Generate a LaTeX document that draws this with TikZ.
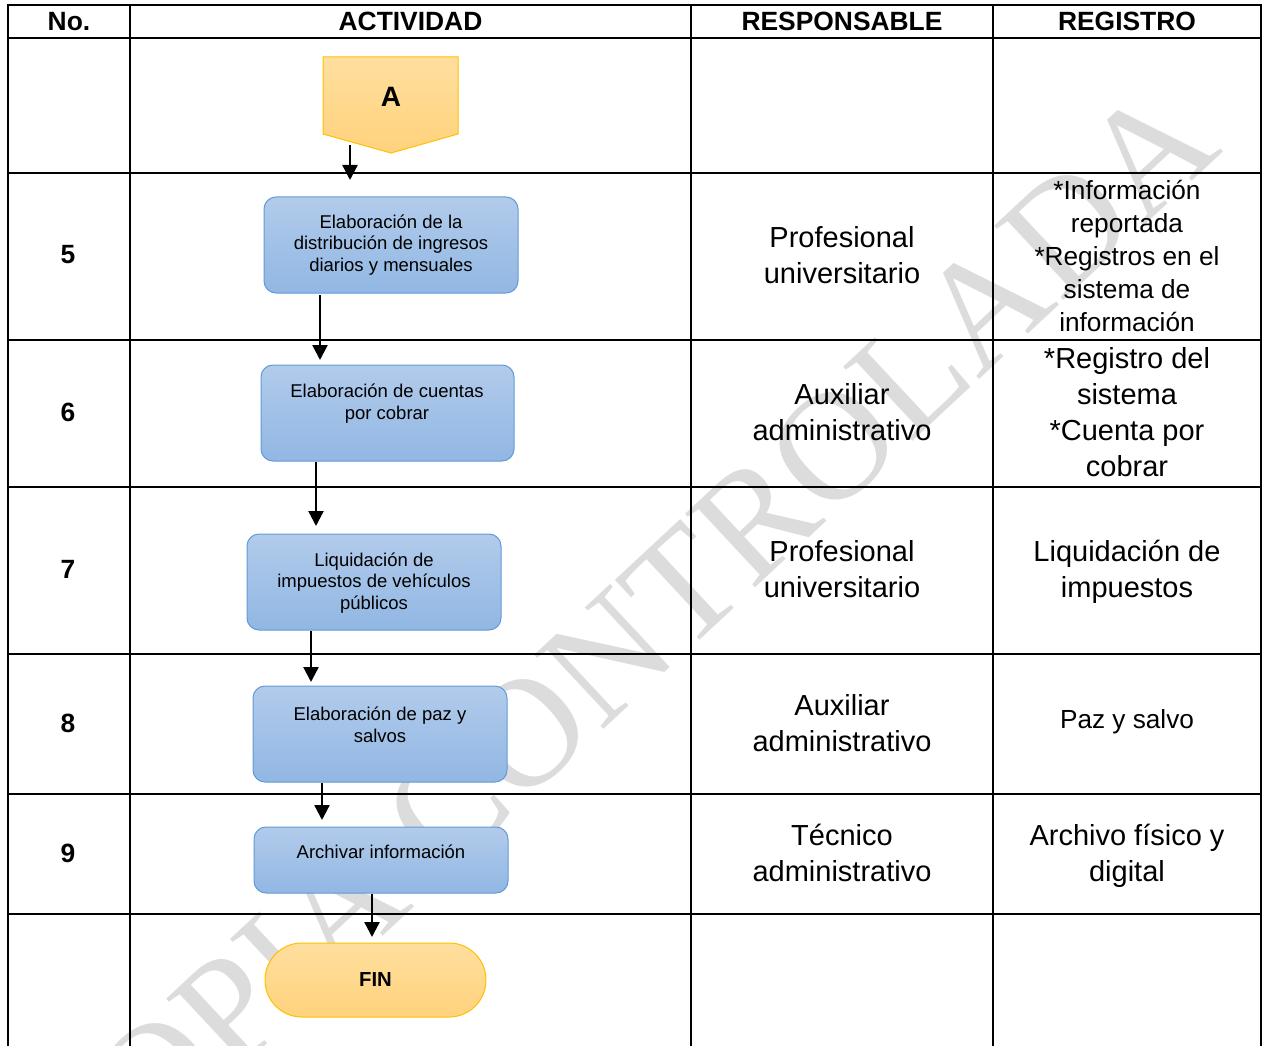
\documentclass[tikz,border=0pt]{standalone}
\usepackage{fontspec}
\setmainfont{Liberation Sans}
\newfontfamily\wmfont{Liberation Serif}
\usetikzlibrary{arrows.meta}
\definecolor{boxtop}{RGB}{178,203,235}
\definecolor{boxbot}{RGB}{145,183,227}
\definecolor{boxline}{RGB}{98,155,215}
\definecolor{orgtop}{RGB}{255,223,158}
\definecolor{orgbot}{RGB}{255,210,125}
\definecolor{orgline}{RGB}{255,192,0}
\definecolor{wmgray}{RGB}{220,220,220}
\begin{document}
\begin{tikzpicture}[x=1pt,y=-1pt,
  gridline/.style={line width=2.6pt, line cap=rect},
  proc/.style={draw=boxline, line width=1pt, rounded corners=12pt, top color=boxtop, bottom color=boxbot, minimum width=254pt, inner sep=0pt},
  proctext/.style={font=\fontsize{18.5}{21.5}\selectfont, align=center, inner sep=0pt},
  term/.style={draw=orgline, line width=1pt, top color=orgtop, bottom color=orgbot},
  head/.style={font=\bfseries\fontsize{26.4}{30}\selectfont, inner sep=0pt},
  num/.style={font=\bfseries\fontsize{26.4}{30}\selectfont, inner sep=0pt},
  cell/.style={font=\fontsize{29}{36}\selectfont, align=center, inner sep=0pt},
  cellsmall/.style={font=\fontsize{26.2}{33}\selectfont, align=center, inner sep=0pt},
  arr/.style={line width=2.4pt, -{Triangle[width=15pt,length=15pt]}},
  wm/.style={font=\wmfont\fontsize{155}{155}\selectfont, text=wmgray, inner sep=0pt}
]
\useasboundingbox (0,0) rectangle (1262,1046);
% watermark
\begin{scope}
  \clip (0,0) rectangle (1262,1046);
  \node[wm, rotate=43] (wmark) at (615,650) {COPIA CONTROLADA};
\end{scope}
% table grid
\foreach \yy in {5,38,173,340,487,654,794,914}
  \draw[gridline] (8,\yy) -- (1261,\yy);
\foreach \xx in {8,130,691,993,1261}
  \draw[gridline] (\xx,5) -- (\xx,1046);
% header
\node[head] (h1) at (69,21.5) {No.};
\node[head] (h2) at (410.5,21.5) {ACTIVIDAD};
\node[head] (h3) at (842,21.5) {RESPONSABLE};
\node[head] (h4) at (1127,21.5) {REGISTRO};
% numbers
\node[num] (n5) at (68,255) {5};
\node[num] (n6) at (68,412) {6};
\node[num] (n7) at (68,569) {7};
\node[num] (n8) at (68,723) {8};
\node[num] (n9) at (68,853) {9};
% connector A
\path[term] (323,57) -- (458,57) -- (458,134) -- (391,153) -- (323,134) -- cycle;
\node[font=\bfseries\fontsize{28}{30}\selectfont, inner sep=0pt] (A) at (391,97) {A};
% process boxes
\node[proc, minimum height=96pt] (b1) at (391,245) {};
\node[proctext] (t1) at (391,245) {Elaboración de la\\distribución de ingresos\\diarios y mensuales};
\node[proc, minimum height=96pt, minimum width=253pt] (b2) at (387.5,413) {};
\node[proctext] (t2) at (387,403.5) {Elaboración de cuentas\\por cobrar};
\node[proc, minimum height=96pt] (b3) at (374,582) {};
\node[proctext] (t3) at (374,583) {Liquidación de\\impuestos de vehículos\\públicos};
\node[proc, minimum height=96pt] (b4) at (380,734) {};
\node[proctext] (t4) at (380,725) {Elaboración de paz y\\salvos};
\node[proc, minimum height=66pt] (b5) at (381,860) {};
\node[proctext] (t5) at (381,852) {Archivar información};
% end terminal
\node[term, rounded corners=36.9pt, minimum width=221pt, minimum height=74pt, inner sep=0pt,
      font=\bfseries\fontsize{20.3}{24}\selectfont] (fin) at (375.5,980) {FIN};
% arrows
\coordinate (a1s) at (350,145); \coordinate (a1e) at (350,180);
\coordinate (a2s) at (320,295); \coordinate (a2e) at (320,360);
\coordinate (a3s) at (316,462); \coordinate (a3e) at (316,526);
\coordinate (a4s) at (311,631); \coordinate (a4e) at (311,682);
\coordinate (a5s) at (322,783); \coordinate (a5e) at (322,820);
\coordinate (a6s) at (372,894); \coordinate (a6e) at (372,937);
\draw[arr] (a1s) -- (a1e);
\draw[arr] (a2s) -- (a2e);
\draw[arr] (a3s) -- (a3e);
\draw[arr] (a4s) -- (a4e);
\draw[arr] (a5s) -- (a5e);
\draw[arr] (a6s) -- (a6e);
% responsable
\node[cell] (r5) at (842,255) {Profesional\\universitario};
\node[cell] (r6) at (842,412) {Auxiliar\\administrativo};
\node[cell] (r7) at (842,569) {Profesional\\universitario};
\node[cell] (r8) at (842,723) {Auxiliar\\administrativo};
\node[cell] (r9) at (842,853) {Técnico\\administrativo};
% registro
\node[cellsmall] (g5) at (1127,256) {*Información\\reportada\\*Registros en el\\sistema de\\información};
\node[cell] (g6) at (1127,412.5) {*Registro del\\sistema\\*Cuenta por\\cobrar};
\node[cell] (g7) at (1127,572) {Liquidación de\\impuestos};
\node[cell, font=\fontsize{26.2}{33}\selectfont] (g8) at (1127,722) {Paz y salvo};
\node[cell] (g9) at (1127,856) {Archivo físico y\\digital};
\end{tikzpicture}
\end{document}
